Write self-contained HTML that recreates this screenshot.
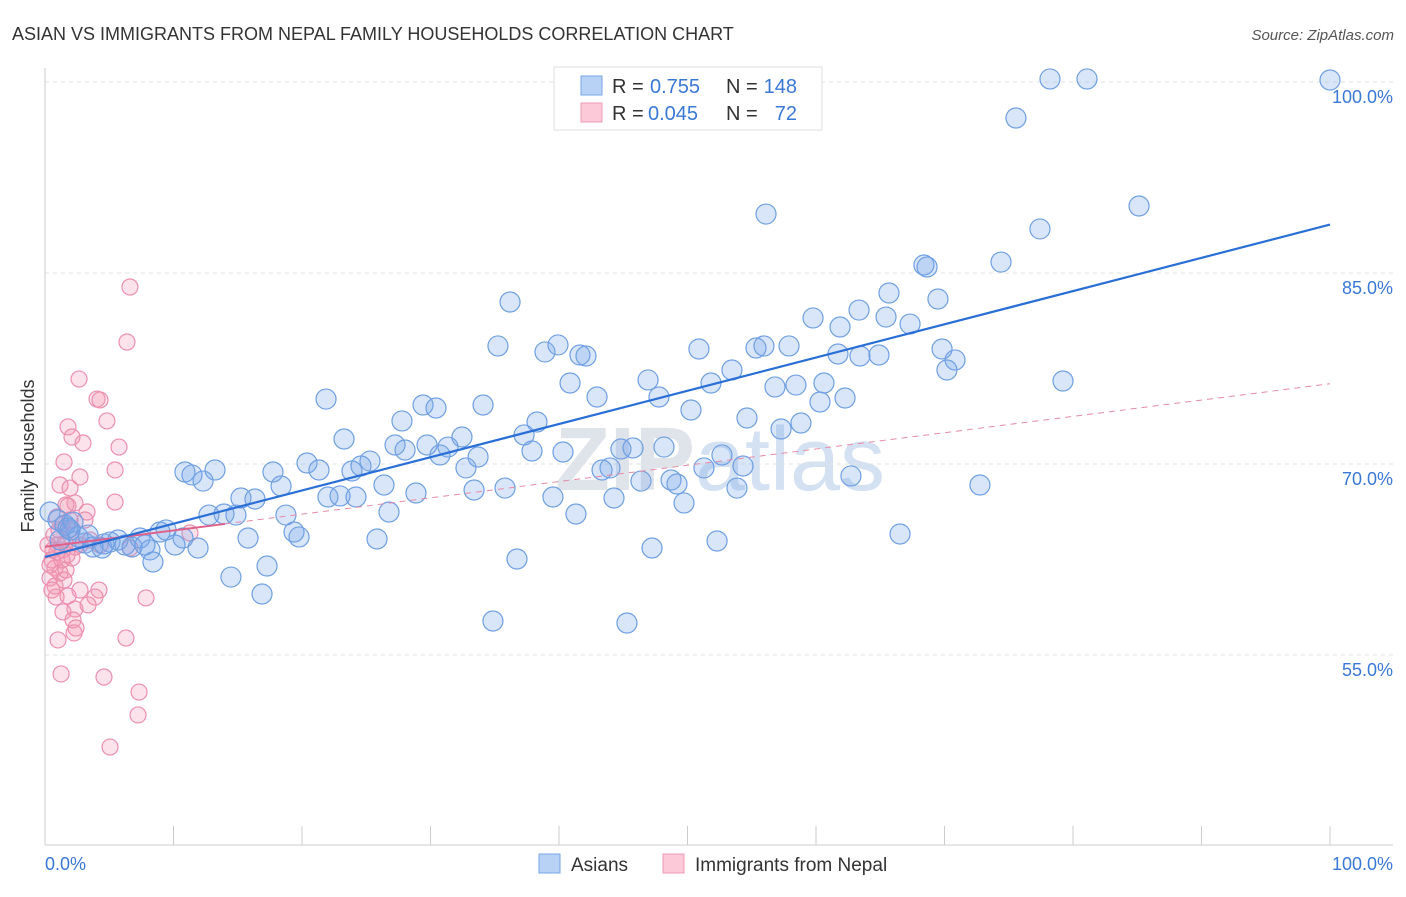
<!DOCTYPE html>
<html><head><meta charset="utf-8"><style>
body{margin:0;background:#fff;font-family:"Liberation Sans",sans-serif;}
svg text{font-family:"Liberation Sans",sans-serif;}
</style></head><body>
<svg id="c" width="1406" height="892" viewBox="0 0 1406 892">
<text x="12" y="40" font-size="18" fill="#333">ASIAN VS IMMIGRANTS FROM NEPAL FAMILY HOUSEHOLDS CORRELATION CHART</text>
<text x="1394" y="40" font-size="15" fill="#555" text-anchor="end" font-style="italic">Source: ZipAtlas.com</text>
<text x="720" y="490" font-size="90" fill="#dfe3ea" text-anchor="middle" font-weight="bold">ZIP<tspan font-weight="normal" fill="#d3e1f2">atlas</tspan></text>
<g id="grid"></g><g id="axes"></g><g id="pink"></g><g id="blue"></g><g id="trends"></g>
<text transform="translate(34,456) rotate(-90)" font-size="18" fill="#333" text-anchor="middle">Family Households</text>
<g>
<rect x="554" y="67" width="268" height="63" fill="#fff" stroke="#ddd"/>
<rect x="581" y="76" width="21" height="19" fill="#b8d2f5" stroke="#7aa6e6"/>
<rect x="581" y="103" width="21" height="19" fill="#fbc9d8" stroke="#ef9bb6"/>
<text x="612" y="93" font-size="20" fill="#333">R =</text>
<text x="650" y="93" font-size="20" fill="#3a78d6">0.755</text>
<text x="726" y="93" font-size="20" fill="#333">N =</text>
<text x="797" y="93" font-size="20" fill="#3a78d6" text-anchor="end">148</text>
<text x="612" y="120" font-size="20" fill="#333">R =</text>
<text x="648" y="120" font-size="20" fill="#3a78d6">0.045</text>
<text x="726" y="120" font-size="20" fill="#333">N =</text>
<text x="797" y="120" font-size="20" fill="#3a78d6" text-anchor="end">72</text>
</g>
<g>
<rect x="539" y="854" width="21" height="19" fill="#b8d2f5" stroke="#7aa6e6"/>
<text x="571" y="871" font-size="19" fill="#333">Asians</text>
<rect x="663" y="854" width="21" height="19" fill="#fbc9d8" stroke="#ef9bb6"/>
<text x="695" y="871" font-size="19" fill="#333">Immigrants from Nepal</text>
</g>
</svg>
<script>
const NS="http://www.w3.org/2000/svg";
const yTicks=[55,70,85,100];
const yTickLabels=["55.0%","70.0%","85.0%","100.0%"];
const xTickLabels=["0.0%","100.0%"];
const blueTrend=[62.7,88.8];
const pinkTrend=[63.5,76.3];
const bluePx=[[1050,79],[1087,79],[1330,80],[1016,118],[766,214],[1139,206],[1040,229],[1001,262],[924,265],[927,267],[889,293],[938,299],[510,302],[859,310],[886,317],[813,318],[840,327],[910,324],[498,346],[545,352],[558,345],[580,355],[586,356],[699,349],[756,348],[764,346],[789,346],[838,354],[860,356],[879,355],[942,349],[955,360],[947,370],[1063,381],[570,383],[648,380],[711,383],[732,370],[775,387],[796,385],[824,383],[326,399],[423,405],[436,408],[483,405],[597,397],[659,397],[845,398],[820,402],[747,418],[691,410],[402,421],[537,422],[524,435],[344,439],[395,445],[427,445],[448,447],[462,437],[405,450],[440,455],[478,457],[466,468],[532,451],[563,452],[621,449],[633,448],[664,447],[801,423],[781,429],[722,455],[307,463],[319,470],[352,471],[370,461],[361,466],[185,472],[192,475],[215,470],[273,472],[203,481],[281,486],[384,485],[328,497],[356,497],[340,496],[416,493],[474,490],[505,488],[553,497],[602,470],[610,468],[641,481],[671,480],[677,484],[704,468],[743,466],[737,488],[614,498],[684,503],[851,476],[980,485],[241,498],[255,499],[209,515],[224,514],[236,515],[286,515],[389,512],[576,514],[294,532],[299,537],[248,538],[377,539],[160,532],[166,530],[140,538],[183,538],[175,545],[198,548],[132,547],[150,550],[153,562],[717,541],[652,548],[900,534],[517,559],[267,566],[231,577],[262,594],[493,621],[627,623],[50,512],[58,520],[65,525],[70,530],[78,537],[85,543],[93,547],[102,548],[110,542],[118,540],[125,545],[88,535],[60,540],[104,544],[145,545],[73,522],[68,528]];
const pinkPx=[[130,287],[127,342],[79,379],[97,399],[100,400],[68,427],[72,437],[83,443],[107,421],[119,447],[64,462],[80,477],[115,470],[60,485],[70,488],[68,506],[75,503],[87,512],[115,502],[57,517],[62,525],[70,530],[54,535],[58,545],[63,550],[67,555],[52,560],[55,568],[60,573],[50,578],[66,570],[72,558],[55,586],[68,596],[99,590],[95,597],[88,605],[75,609],[63,612],[73,620],[76,628],[74,633],[58,640],[126,638],[146,598],[61,674],[104,677],[139,692],[138,715],[110,747],[190,533],[130,548],[80,545],[57,552],[65,543],[75,547],[50,565],[53,550],[59,530],[66,505],[80,590],[100,545],[62,560],[48,545],[52,590],[70,520],[85,520],[90,540],[56,597],[64,580]];
const blueX=bluePx.map(p=>+((p[0]-45)/12.85).toFixed(2)), blueY=bluePx.map(p=>+(100-(p[1]-82)/12.733).toFixed(2));
const pinkX=pinkPx.map(p=>+((p[0]-45)/12.85).toFixed(2)), pinkY=pinkPx.map(p=>+(100-(p[1]-82)/12.733).toFixed(2));
const X=v=>45+v*12.85, Y=v=>82+(100-v)*12.733;
function mk(t,a,parent){const e=document.createElementNS(NS,t);for(const k in a)e.setAttribute(k,a[k]);document.getElementById(parent).appendChild(e);return e;}
yTicks.forEach((t,i)=>{
 const l=mk('line',{x1:45,x2:1393,y1:Y(t),y2:Y(t),stroke:'#e2e2e2','stroke-dasharray':'4,4'},'grid');
 
 
 const tx=mk('text',{x:1393,y:Y(t)+21,'font-size':18,fill:'#3a78d6','text-anchor':'end'},'grid');tx.textContent=yTickLabels[i];
 
 
});
let ax=mk('line',{x1:45,x2:45,y1:68,y2:845,stroke:'#ccc'},'axes');


ax=mk('line',{x1:45,x2:1393,y1:845,y2:845,stroke:'#ccc'},'axes');


for(let i=1;i<=10;i++){const t=mk('line',{x1:X(i*10),x2:X(i*10),y1:826,y2:845,stroke:'#ccc'},'axes');
 
 }
[[0,'start',45],[100,'end',1393]].forEach((d,i)=>{const t=mk('text',{x:d[2],y:870,'font-size':18,fill:'#3a78d6','text-anchor':d[1]},'axes');t.textContent=xTickLabels[i];
 
 });
pinkX.forEach((x,i)=>{const c=mk('circle',{cx:X(x),cy:Y(pinkY[i]),r:8,fill:'rgba(245,150,180,0.28)',stroke:'#ec8fae','stroke-width':1.2},'pink');
 
 });
blueX.forEach((x,i)=>{const c=mk('circle',{cx:X(x),cy:Y(blueY[i]),r:10,fill:'rgba(120,165,235,0.28)',stroke:'#6f9fe2','stroke-width':1.2},'blue');
 
 });
const py=x=>pinkTrend[0]+(pinkTrend[1]-pinkTrend[0])*x/100;
let t=mk('line',{x1:X(0),y1:Y(py(0)),x2:X(14),y2:Y(py(14)),stroke:'#e0608a','stroke-width':2},'trends');


t=mk('line',{x1:X(14),y1:Y(py(14)),x2:X(100),y2:Y(py(100)),stroke:'#e68aa8','stroke-width':1,'stroke-dasharray':'6,5'},'trends');


t=mk('line',{x1:X(0),y1:Y(blueTrend[0]),x2:X(100),y2:Y(blueTrend[1]),stroke:'#2a6fd6','stroke-width':2.2},'trends');


</script>
</body></html>
